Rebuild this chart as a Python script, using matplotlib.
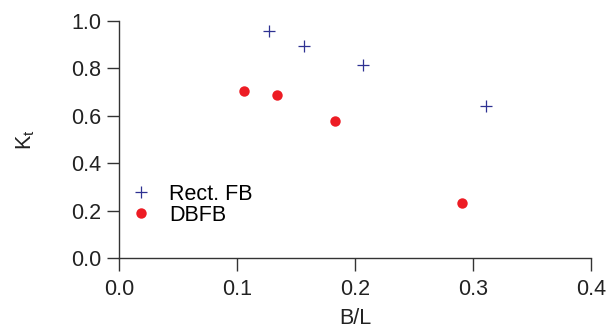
import matplotlib.pyplot as plt

plt.rcParams['font.family'] = ['Liberation Sans', 'DejaVu Sans']

rect_bl = [0.127, 0.157, 0.207, 0.311]
rect_kt = [0.960, 0.896, 0.816, 0.642]
dbfb_bl = [0.106, 0.134, 0.183, 0.291]
dbfb_kt = [0.704, 0.686, 0.580, 0.234]

fig = plt.figure(figsize=(6.15, 3.29), dpi=100)
ax = fig.add_axes([0.1935, 0.216, 0.7675, 0.72])

ax.plot(rect_bl, rect_kt, '+', color='#2e3192', ms=9, mew=0.9, label='Rect. FB')
ax.plot(dbfb_bl, dbfb_kt, 'o', color='#ed1c24', ms=7.5, mec='none', label='DBFB')

ax.set_xlim(0, 0.4)
ax.set_ylim(0, 1.0)
ax.set_xticks([0.0, 0.1, 0.2, 0.3, 0.4])
ax.set_yticks([0.0, 0.2, 0.4, 0.6, 0.8, 1.0])
ax.xaxis.set_major_formatter(plt.FormatStrFormatter('%.1f'))
ax.yaxis.set_major_formatter(plt.FormatStrFormatter('%.1f'))

for s in ['top', 'right']:
    ax.spines[s].set_visible(False)
for s in ['left', 'bottom']:
    ax.spines[s].set_color('#333333')
    ax.spines[s].set_linewidth(1.0)
ax.tick_params(direction='out', length=9, width=1.0, color='#333333',
               labelsize=15.5, labelcolor='#222222')
ax.tick_params(axis='x', pad=6)
ax.tick_params(axis='y', pad=4)

ax.set_xlabel('B/L', fontsize=15.5, color='#222222', labelpad=6)
ax.set_ylabel(r'K$_\mathregular{t}$', fontsize=15.5, color='#222222', labelpad=24)

ax.legend(loc='upper left', bbox_to_anchor=(-0.013, 0.377), frameon=False,
          fontsize=15.5, handletextpad=0.7, labelspacing=0.0, borderaxespad=0.3,
          handlelength=1.2)

fig.savefig('out.png', dpi=100)
